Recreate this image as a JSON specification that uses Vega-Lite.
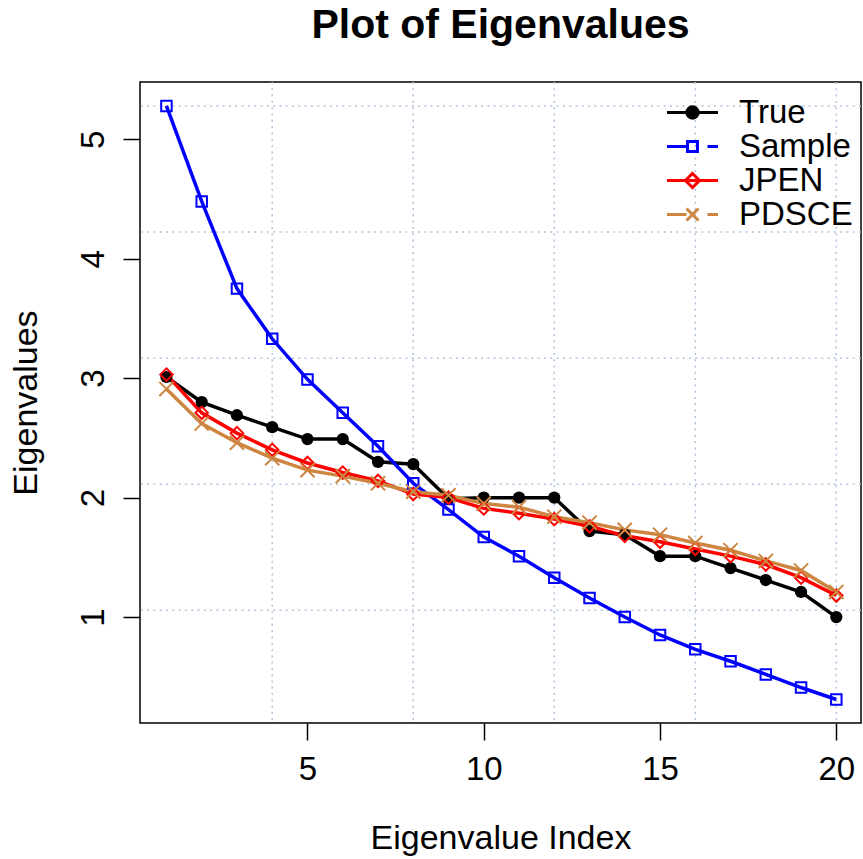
{
  "$schema": "https://vega.github.io/schema/vega-lite/v6.json",
  "width": 721,
  "height": 641,
  "autosize": {"type": "none"},
  "padding": {"left": 140, "top": 82, "right": 2, "bottom": 136},
  "background": "white",
  "config": {
    "view": {"stroke": "black", "strokeWidth": 1.5},
    "font": "Liberation Sans"
  },
  "title": {
    "text": "Plot of Eigenvalues",
    "font": "Liberation Sans",
    "fontSize": 41,
    "fontWeight": "bold",
    "color": "black",
    "anchor": "middle",
    "frame": "group",
    "baseline": "alphabetic",
    "offset": 2
  },
  "datasets": {
    "eig": [
      {"index": 1, "value": 3.01, "series": "True"},
      {"index": 2, "value": 2.80, "series": "True"},
      {"index": 3, "value": 2.69, "series": "True"},
      {"index": 4, "value": 2.59, "series": "True"},
      {"index": 5, "value": 2.49, "series": "True"},
      {"index": 6, "value": 2.49, "series": "True"},
      {"index": 7, "value": 2.30, "series": "True"},
      {"index": 8, "value": 2.28, "series": "True"},
      {"index": 9, "value": 1.99, "series": "True"},
      {"index": 10, "value": 2.00, "series": "True"},
      {"index": 11, "value": 2.00, "series": "True"},
      {"index": 12, "value": 2.00, "series": "True"},
      {"index": 13, "value": 1.72, "series": "True"},
      {"index": 14, "value": 1.69, "series": "True"},
      {"index": 15, "value": 1.51, "series": "True"},
      {"index": 16, "value": 1.51, "series": "True"},
      {"index": 17, "value": 1.41, "series": "True"},
      {"index": 18, "value": 1.31, "series": "True"},
      {"index": 19, "value": 1.21, "series": "True"},
      {"index": 20, "value": 1.00, "series": "True"},
      {"index": 1, "value": 5.28, "series": "Sample"},
      {"index": 2, "value": 4.48, "series": "Sample"},
      {"index": 3, "value": 3.75, "series": "Sample"},
      {"index": 4, "value": 3.33, "series": "Sample"},
      {"index": 5, "value": 2.99, "series": "Sample"},
      {"index": 6, "value": 2.71, "series": "Sample"},
      {"index": 7, "value": 2.43, "series": "Sample"},
      {"index": 8, "value": 2.12, "series": "Sample"},
      {"index": 9, "value": 1.90, "series": "Sample"},
      {"index": 10, "value": 1.67, "series": "Sample"},
      {"index": 11, "value": 1.51, "series": "Sample"},
      {"index": 12, "value": 1.33, "series": "Sample"},
      {"index": 13, "value": 1.16, "series": "Sample"},
      {"index": 14, "value": 1.00, "series": "Sample"},
      {"index": 15, "value": 0.85, "series": "Sample"},
      {"index": 16, "value": 0.73, "series": "Sample"},
      {"index": 17, "value": 0.63, "series": "Sample"},
      {"index": 18, "value": 0.52, "series": "Sample"},
      {"index": 19, "value": 0.41, "series": "Sample"},
      {"index": 20, "value": 0.31, "series": "Sample"},
      {"index": 1, "value": 3.03, "series": "JPEN"},
      {"index": 2, "value": 2.71, "series": "JPEN"},
      {"index": 3, "value": 2.54, "series": "JPEN"},
      {"index": 4, "value": 2.40, "series": "JPEN"},
      {"index": 5, "value": 2.29, "series": "JPEN"},
      {"index": 6, "value": 2.21, "series": "JPEN"},
      {"index": 7, "value": 2.14, "series": "JPEN"},
      {"index": 8, "value": 2.03, "series": "JPEN"},
      {"index": 9, "value": 2.00, "series": "JPEN"},
      {"index": 10, "value": 1.91, "series": "JPEN"},
      {"index": 11, "value": 1.87, "series": "JPEN"},
      {"index": 12, "value": 1.82, "series": "JPEN"},
      {"index": 13, "value": 1.76, "series": "JPEN"},
      {"index": 14, "value": 1.68, "series": "JPEN"},
      {"index": 15, "value": 1.63, "series": "JPEN"},
      {"index": 16, "value": 1.57, "series": "JPEN"},
      {"index": 17, "value": 1.51, "series": "JPEN"},
      {"index": 18, "value": 1.44, "series": "JPEN"},
      {"index": 19, "value": 1.33, "series": "JPEN"},
      {"index": 20, "value": 1.18, "series": "JPEN"},
      {"index": 1, "value": 2.91, "series": "PDSCE"},
      {"index": 2, "value": 2.62, "series": "PDSCE"},
      {"index": 3, "value": 2.46, "series": "PDSCE"},
      {"index": 4, "value": 2.33, "series": "PDSCE"},
      {"index": 5, "value": 2.23, "series": "PDSCE"},
      {"index": 6, "value": 2.18, "series": "PDSCE"},
      {"index": 7, "value": 2.12, "series": "PDSCE"},
      {"index": 8, "value": 2.05, "series": "PDSCE"},
      {"index": 9, "value": 2.02, "series": "PDSCE"},
      {"index": 10, "value": 1.95, "series": "PDSCE"},
      {"index": 11, "value": 1.92, "series": "PDSCE"},
      {"index": 12, "value": 1.84, "series": "PDSCE"},
      {"index": 13, "value": 1.79, "series": "PDSCE"},
      {"index": 14, "value": 1.73, "series": "PDSCE"},
      {"index": 15, "value": 1.69, "series": "PDSCE"},
      {"index": 16, "value": 1.62, "series": "PDSCE"},
      {"index": 17, "value": 1.56, "series": "PDSCE"},
      {"index": 18, "value": 1.47, "series": "PDSCE"},
      {"index": 19, "value": 1.39, "series": "PDSCE"},
      {"index": 20, "value": 1.21, "series": "PDSCE"}
    ],
    "vgrid": [{"index": 4}, {"index": 8}, {"index": 12}, {"index": 16}, {"index": 20}],
    "hgrid": [{"value": 1.056}, {"value": 2.112}, {"value": 3.168}, {"value": 4.224}, {"value": 5.28}]
  },
  "layer": [
    {
      "data": {"name": "vgrid"},
      "mark": {"type": "rule", "color": "#b0c4de", "strokeWidth": 1.5, "strokeDash": [2, 4.3]},
      "encoding": {"x": {"field": "index", "type": "quantitative"}}
    },
    {
      "data": {"name": "hgrid"},
      "mark": {"type": "rule", "color": "#b0c4de", "strokeWidth": 1.5, "strokeDash": [2, 4.3]},
      "encoding": {"y": {"field": "value", "type": "quantitative"}}
    },
    {
      "data": {"name": "eig"},
      "mark": {"type": "line", "strokeWidth": 3.5},
      "encoding": {
        "x": {
          "field": "index", "type": "quantitative",
          "scale": {"domain": [0.25, 20.7], "nice": false, "zero": false},
          "axis": {
            "title": "Eigenvalue Index", "values": [5, 10, 15, 20], "format": "d", "grid": false, "domain": false,
            "tickSize": 17, "tickWidth": 1.5, "tickColor": "black",
            "labelFont": "Liberation Sans", "labelFontSize": 33, "labelColor": "black", "labelPadding": 13,
            "labelFlush": false,
            "titleFont": "Liberation Sans", "titleFontSize": 34, "titleFontWeight": "normal", "titleColor": "black",
            "titleBaseline": "alphabetic", "titleX": 360.5, "titleY": 125, "titleAlign": "center"
          }
        },
        "y": {
          "field": "value", "type": "quantitative",
          "scale": {"domain": [0.113, 5.48], "nice": false, "zero": false},
          "axis": {
            "title": "Eigenvalues", "values": [1, 2, 3, 4, 5], "format": "d", "grid": false, "domain": false,
            "tickSize": 17, "tickWidth": 1.5, "tickColor": "black",
            "labelFont": "Liberation Sans", "labelFontSize": 33, "labelColor": "black", "labelPadding": 20,
            "labelAngle": -90, "labelAlign": "center", "labelBaseline": "alphabetic", "labelFlush": false,
            "titleFont": "Liberation Sans", "titleFontSize": 34, "titleFontWeight": "normal", "titleColor": "black",
            "titleAngle": -90, "titleBaseline": "alphabetic", "titleAlign": "center", "titleX": -103.5, "titleY": 320.5
          }
        },
        "color": {
          "field": "series", "type": "nominal",
          "scale": {"domain": ["True", "Sample", "JPEN", "PDSCE"], "range": ["black", "blue", "red", "#CD853F"]},
          "legend": {
            "orient": "none", "legendX": 536, "legendY": 14, "title": null, "padding": 0,
            "symbolSize": 900, "symbolStrokeWidth": 3,
            "labelFont": "Liberation Sans", "labelFontSize": 33, "labelColor": "black", "labelOffset": 30,
            "rowPadding": -4,
            "encode": {
              "symbols": {
                "update": {
                  "shape": {"signal": "datum.value === 'True' ? 'M-1.7,0H1.7M0.38,0A0.38,0.38,0,1,1,-0.38,0A0.38,0.38,0,1,1,0.38,0M0.2,0A0.2,0.2,0,1,1,-0.2,0A0.2,0.2,0,1,1,0.2,0M0.06,0A0.06,0.06,0,1,1,-0.06,0A0.06,0.06,0,1,1,0.06,0' : datum.value === 'Sample' ? 'M-1.7,0H-0.33M-0.33,-0.33H0.33V0.33H-0.33ZM1,0H1.7' : datum.value === 'JPEN' ? 'M-1.7,0H1.7M0,-0.47L0.47,0L0,0.47L-0.47,0Z' : 'M-1.7,0H-0.4M-0.4,-0.4L0.4,0.4M-0.4,0.4L0.4,-0.4M1,0H1.7'"},
                  "fill": {"value": "transparent"},
                  "stroke": {"signal": "scale('color', datum.value)"},
                  "strokeWidth": {"value": 3},
                  "opacity": {"value": 1}
                }
              }
            }
          }
        }
      }
    },
    {
      "data": {"name": "eig"},
      "transform": [{"filter": "datum.series === 'True'"}],
      "mark": {"type": "point", "filled": true, "shape": "circle", "size": 150, "opacity": 1, "color": "black"},
      "encoding": {
        "x": {"field": "index", "type": "quantitative"},
        "y": {"field": "value", "type": "quantitative"}
      }
    },
    {
      "data": {"name": "eig"},
      "transform": [{"filter": "datum.series !== 'True'"}],
      "mark": {"type": "point", "filled": false, "strokeWidth": 2, "opacity": 1},
      "encoding": {
        "x": {"field": "index", "type": "quantitative"},
        "y": {"field": "value", "type": "quantitative"},
        "color": {"field": "series", "type": "nominal"},
        "shape": {
          "field": "series", "type": "nominal", "legend": null,
          "scale": {"domain": ["Sample", "JPEN", "PDSCE"], "range": ["square", "diamond", "M-1,-1L1,1M-1,1L1,-1"]}
        },
        "size": {
          "field": "series", "type": "nominal", "legend": null,
          "scale": {"domain": ["Sample", "JPEN", "PDSCE"], "range": [110, 200, 90]}
        }
      }
    }
  ]
}
